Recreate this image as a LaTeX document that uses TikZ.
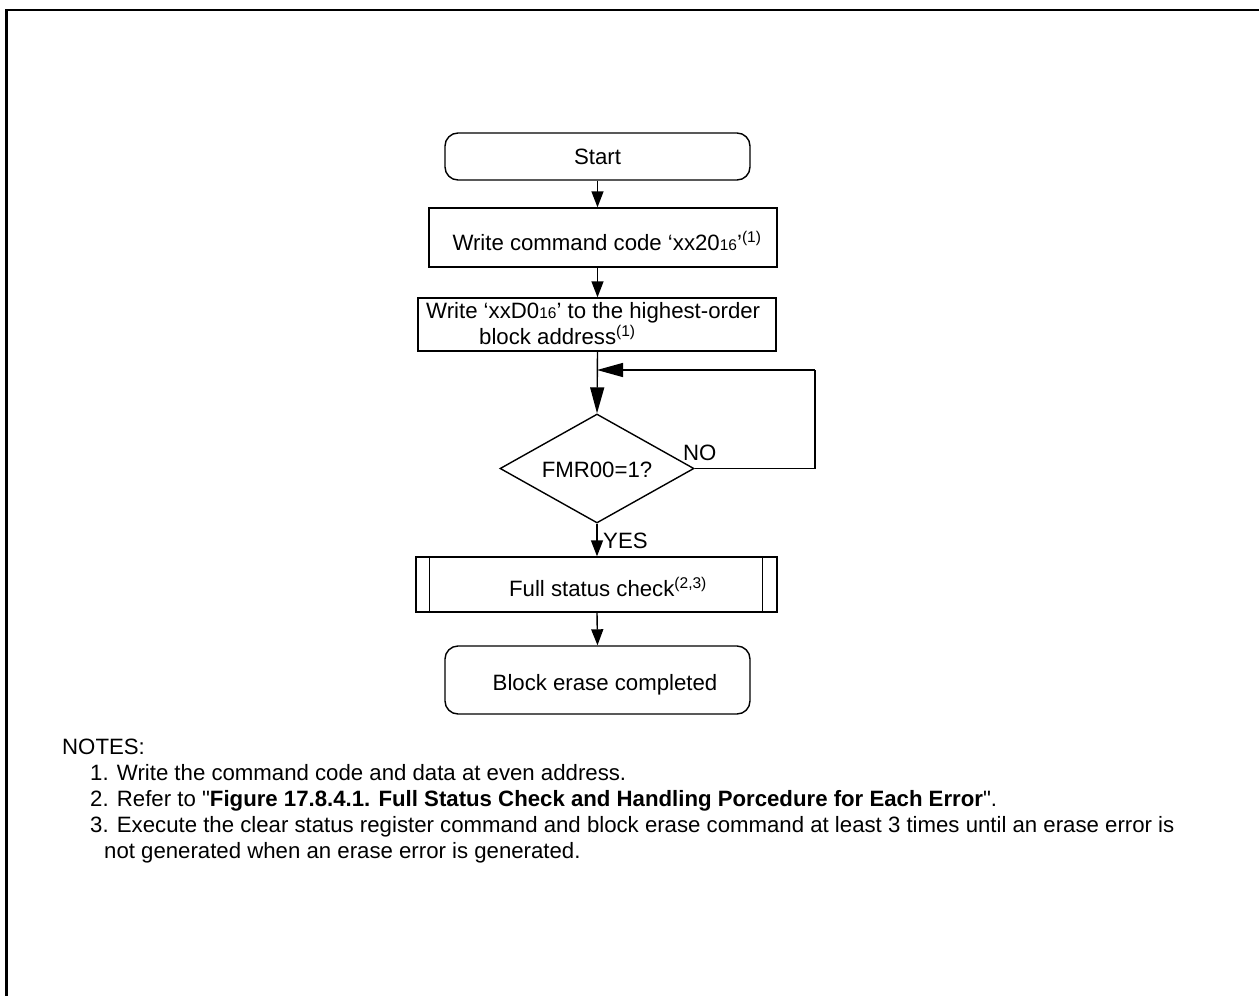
\documentclass[tikz,border=0pt]{standalone}
\usepackage{fontspec}
\setmainfont{Liberation Sans}[Ligatures=TeXOff]
\usetikzlibrary{shapes.geometric,arrows.meta}
\newcommand{\sixteen}{{\fontsize{15.5}{15.5}\selectfont 16}}
\newcommand{\nsup}[1]{\textsuperscript{#1}}
\begin{document}
\begin{tikzpicture}[x=1pt,y=-1pt,
  every node/.style={font=\fontsize{22.2}{26}\selectfont},
  line/.style={line width=1.4pt,draw=black},
  arr/.style={line, -{Triangle[length=16pt,width=12pt]}},
  bigarr/.style={line, -{Triangle[length=26pt,width=14pt]}},
  term/.style={line, rounded corners=13pt, minimum width=305pt, minimum height=47pt, inner sep=0pt},
  proc/.style={line, rectangle, inner sep=0pt},
  dec/.style={line, diamond, inner sep=0pt, minimum width=194pt, minimum height=109pt},
  lbl/.style={inner sep=0pt, anchor=base west}
]
\useasboundingbox (0,0) rectangle (1259,996);
\fill[white] (0,0) rectangle (1259,996);
% frame
\draw[line width=2.5pt] (6.5,996) -- (6.5,10) -- (1259,10);

% nodes
\node[term] (start) at (597.5,156.5) {};
\node[inner sep=0pt] (tstart) at (597.5,156.5) {Start};

\node[proc, minimum width=348pt, minimum height=59pt] (wc) at (603,237.5) {};
\node[inner sep=0pt, anchor=base] (twc) at (607,250) {Write command code ‘xx20\sixteen’\nsup{(1)}};

\node[proc, minimum width=358pt, minimum height=53pt] (wd) at (597,324.5) {};
\node[lbl] (twd1) at (426,318) {Write ‘xxD0\sixteen’ to the highest-order};
\node[lbl] (twd2) at (479,344) {block address\nsup{(1)}};

\coordinate (j) at (597,370);
\node[dec] (chk) at (597,468.5) {};
\node[inner sep=0pt] (tchk) at (597,469.5) {FMR00=1?};
\node[lbl] (tno) at (683,460) {NO};
\node[lbl] (tyes) at (603,548) {YES};
\coordinate (c1) at (815,468.5);
\coordinate (c2) at (815,370);

\node[proc, minimum width=361pt, minimum height=55pt] (fs) at (596.5,584.5) {};
\draw[line] ([xshift=14pt]fs.north west) -- ([xshift=14pt]fs.south west);
\draw[line] ([xshift=-15pt]fs.north east) -- ([xshift=-15pt]fs.south east);
\node[inner sep=0pt, anchor=base] (tfs) at (608,596) {Full status check\nsup{(2,3)}};

\node[term, minimum height=68pt] (done) at (597.5,680) {};
\node[inner sep=0pt] (tdone) at (605,685) {Block erase completed};

% connectors
\draw[arr] (start.south) -- (wc.north -| start.south);
\draw[arr] (wc.south -| start.south) -- (wd.north -| start.south);
\draw[bigarr] (wd.south -| start.south) -- (chk.north);
\draw[line] (chk.east) -- (c1) -- (c2);
\draw[bigarr] (c2) -- (j);
\draw[arr] (chk.south) -- (fs.north -| chk.south);
\draw[arr] (fs.south -| chk.south) -- (done.north);

% notes
\node[lbl] (n0) at (62,754) {NOTES:};
\node[lbl] (n1) at (90,780) {1. Write the command code and data at even address.};
\node[lbl] (n2) at (90,806) {2. Refer to "\textbf{Figure 17.8.4.1. Full Status Check and Handling Porcedure for Each Error}".};
\node[lbl] (n3) at (90,832) {3. Execute the clear status register command and block erase command at least 3 times until an erase error is};
\node[lbl] (n4) at (104,858) {not generated when an erase error is generated.};
\end{tikzpicture}
\end{document}
